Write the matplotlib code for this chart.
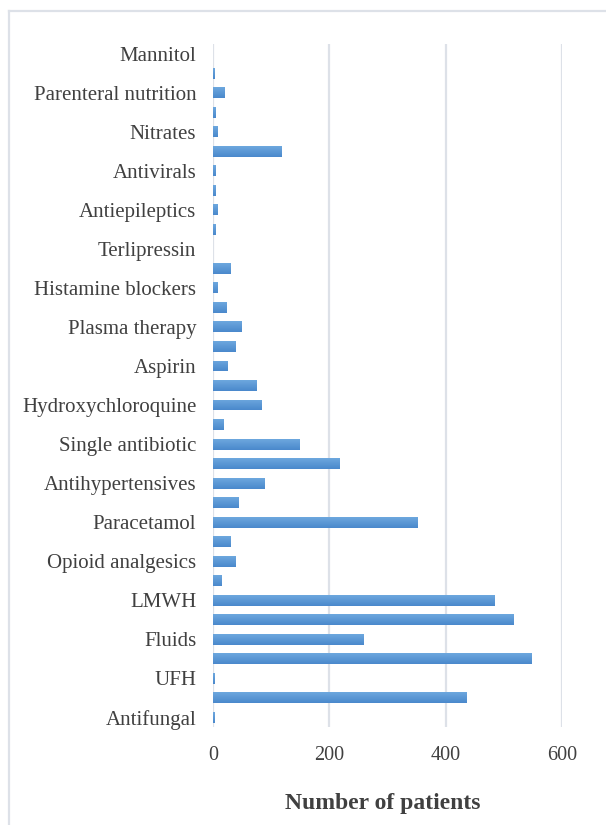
import numpy as np
import matplotlib.pyplot as plt
from matplotlib.lines import Line2D
from matplotlib.colors import LinearSegmentedColormap

# categories bottom to top; unlabeled ones are hidden in the original chart
categories = [
    "Antifungal", "", "UFH", "", "Fluids", "", "LMWH", "",
    "Opioid analgesics", "", "Paracetamol", "", "Antihypertensives", "",
    "Single antibiotic", "", "Hydroxychloroquine", "", "Aspirin", "",
    "Plasma therapy", "", "Histamine blockers", "", "Terlipressin", "",
    "Antiepileptics", "", "Antivirals", "", "Nitrates", "",
    "Parenteral nutrition", "", "Mannitol",
]
patients = [
    2, 435, 3, 547, 258, 516, 484, 14,
    39, 30, 352, 43, 89, 217,
    149, 18, 84, 75, 25, 39,
    49, 23, 7, 30, 0, 5,
    7, 5, 5, 118, 7, 5,
    19, 2, 0,
]
x_ticks = [0, 200, 400, 600]

plt.rcParams["font.family"] = ["Liberation Serif", "DejaVu Serif"]

fig = plt.figure(figsize=(6.06, 8.25), dpi=100)
ax = fig.add_axes([213 / 606, 1 - 727 / 825, (562 - 213) / 606, (727 - 44) / 825])

y = list(range(len(categories)))
bars = ax.barh(y, patients, height=0.56, color="#5B9BD5", zorder=3)

# excel-like vertical gradient inside each bar (lighter on top)
grad_cmap = LinearSegmentedColormap.from_list("bar", ["#6DA7DE", "#4A89CC"])
grad = np.linspace(0, 1, 32).reshape(-1, 1)
for b in bars:
    if b.get_width() <= 0:
        continue
    x0, y0 = b.get_x(), b.get_y()
    im = ax.imshow(grad, cmap=grad_cmap, aspect="auto", origin="lower",
                   extent=(x0, x0 + b.get_width(), y0 + b.get_height(), y0),
                   zorder=4)
    im.set_clip_path(b)

ax.set_xlim(0, 600)
ax.set_ylim(-0.5, len(categories) - 0.5)
ax.set_xticks(x_ticks)
ax.set_xticklabels([str(t) for t in x_ticks], fontsize=14.5, color="#404040")
ax.set_yticks(y)
ax.set_yticklabels(categories, fontsize=15, color="#404040")
ax.tick_params(axis="both", length=0)
ax.tick_params(axis="x", pad=14)
ax.tick_params(axis="y", pad=12)

ax.grid(axis="x", color="#DDE1E8", linewidth=1.6, zorder=0)
for side in ["top", "right", "bottom", "left"]:
    ax.spines[side].set_visible(False)

fig.text(383 / 606, 1 - 803 / 825, "Number of patients", ha="center", va="center",
         fontsize=17, fontweight="bold", color="#404040")

# chart area border (only top and left visible)
fig.add_artist(Line2D([8.5 / 606, 8.5 / 606], [0, 1 - 11 / 825],
                      transform=fig.transFigure, color="#DDE1E8", linewidth=1.6))
fig.add_artist(Line2D([8.5 / 606, 1], [1 - 11 / 825, 1 - 11 / 825],
                      transform=fig.transFigure, color="#DDE1E8", linewidth=1.6))

fig.savefig("out.png", dpi=100)
plt.close()
